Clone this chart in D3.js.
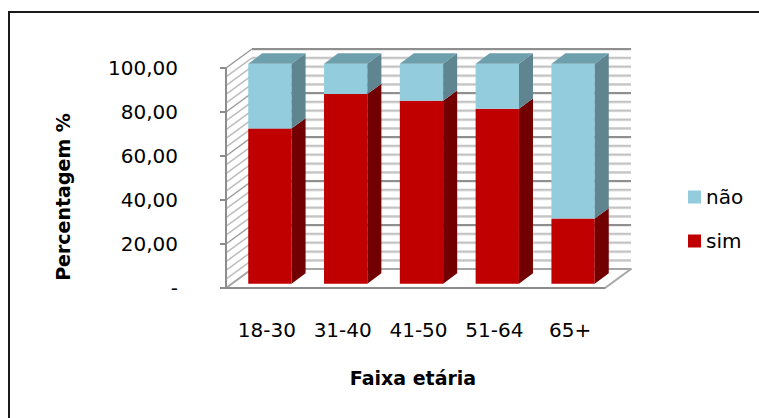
<!DOCTYPE html>
<html>
<head>
<meta charset="utf-8">
<script src="https://cdn.jsdelivr.net/npm/d3@7"></script>
<style>
  html, body { margin: 0; padding: 0; background: #fff; }
  svg { display: block; font-family: "DejaVu Sans", sans-serif; }
</style>
</head>
<body>
<svg id="chart" width="759" height="418"></svg>
<script>
// Share of respondents by age group (percent)
const categories = ["18-30", "31-40", "41-50", "51-64", "65+"];
const sim = [70.5, 86.2, 83.1, 79.5, 29.6];
const nao = [29.5, 13.8, 16.9, 20.5, 70.4];
const seriesKeys = ["sim", "nao"];
const seriesNames = { sim: "sim", nao: "não" };
const yTicks = [0, 20, 40, 60, 80, 100];
const yMinorTicks = d3.range(0, 101, 4);

const colors = {
  sim: { front: "#c00000", side: "#730000", top: "#8a0000" },
  nao: { front: "#93cddd", side: "#5f8590", top: "#6e9fad" }
};

const svg = d3.select("#chart");

// front plane of the 3D plot box
const x = d3.scaleBand().domain(categories).range([226, 605]).paddingInner(0.4286).paddingOuter(0.2143);
const y = d3.scaleLinear().domain([0, 100]).range([288, 68]);

// depth vector from front plane to back wall
const depth = { dx: 26, dy: -19 };
const barFront = 0.23, barBack = 0.77;

const fmt = v => v === 0 ? "-" : d3.format(".2f")(v).replace(".", ",");

const rows = categories.map((c, i) => ({ cat: c, sim: sim[i], nao: nao[i] }));
const stacked = d3.stack().keys(seriesKeys)(rows);

const pt = (px, py, f) => [px + depth.dx * f, py + depth.dy * f];
const poly = pts => "M" + pts.map(p => p.join(",")).join("L") + "Z";

// outer frame
svg.append("rect")
  .attr("x", 9).attr("y", 12).attr("width", 770).attr("height", 430)
  .attr("fill", "none").attr("stroke", "#1a1a1a").attr("stroke-width", 2);

const x0 = x.range()[0], x1 = x.range()[1];
const walls = svg.append("g");

// back wall and side wall
walls.append("path")
  .attr("d", poly([pt(x0, y(0), 1), pt(x1, y(0), 1), pt(x1, y(100), 1), pt(x0, y(100), 1)]))
  .attr("fill", "#fff");

// minor/major gridlines on back wall and side wall
yMinorTicks.forEach(v => {
  const major = v % 20 === 0;
  const a = pt(x0, y(v), 1), b = pt(x1, y(v), 1);
  walls.append("line")
    .attr("x1", a[0]).attr("y1", a[1] + 1).attr("x2", b[0]).attr("y2", b[1] + 1)
    .attr("stroke", "#e2e2e2").attr("stroke-width", 1.5);
  walls.append("line")
    .attr("x1", a[0]).attr("y1", a[1]).attr("x2", b[0]).attr("y2", b[1])
    .attr("stroke", major ? "#8f8f8f" : "#c4c4c4").attr("stroke-width", 2);
  const s0 = pt(x0, y(v), 0), s1 = pt(x0, y(v), 1);
  walls.append("line")
    .attr("x1", s0[0]).attr("y1", s0[1]).attr("x2", s1[0]).attr("y2", s1[1])
    .attr("stroke", major ? "#9a9a9a" : "#bdbdbd").attr("stroke-width", 1.5);
});

// floor
walls.append("path")
  .attr("d", poly([pt(x0, y(0), 0), pt(x1, y(0), 0), pt(x1, y(0), 1), pt(x0, y(0), 1)]))
  .attr("fill", "#fff").attr("stroke", "#a6a6a6").attr("stroke-width", 2).attr("stroke-linejoin", "round");

// left value axis
const axisG = svg.append("g");
axisG.append("line")
  .attr("x1", x0).attr("x2", x0).attr("y1", y(0)).attr("y2", y(100))
  .attr("stroke", "#8c8c8c").attr("stroke-width", 2);
axisG.append("line")
  .attr("x1", x0).attr("x2", x1).attr("y1", y(0)).attr("y2", y(0))
  .attr("stroke", "#8c8c8c").attr("stroke-width", 2);
yTicks.forEach(v => {
  axisG.append("line")
    .attr("x1", x0 - 6).attr("x2", x0).attr("y1", y(v)).attr("y2", y(v))
    .attr("stroke", "#8c8c8c").attr("stroke-width", 2);
  axisG.append("text")
    .attr("x", 178).attr("y", y(v)).attr("dy", "0.36em")
    .attr("text-anchor", "end").attr("font-size", 20).attr("fill", "#000")
    .text(fmt(v));
});

// bars
const bars = svg.append("g");
const bw = x.bandwidth();
categories.forEach((c, i) => {
  stacked.forEach((layer, li) => {
    const d = layer[i];
    const key = layer.key;
    const col = colors[key];
    const xl = x(c), xr = x(c) + bw;
    const yb = y(d[0]), yt = y(d[1]);
    // front face
    bars.append("path")
      .attr("d", poly([pt(xl, yb, barFront), pt(xr, yb, barFront), pt(xr, yt, barFront), pt(xl, yt, barFront)]))
      .attr("fill", col.front);
    // right side face
    bars.append("path")
      .attr("d", poly([pt(xr, yb, barFront), pt(xr, yb, barBack), pt(xr, yt, barBack), pt(xr, yt, barFront)]))
      .attr("fill", col.side);
    // top face on the uppermost segment
    if (li === stacked.length - 1) {
      bars.append("path")
        .attr("d", poly([pt(xl, yt, barFront), pt(xr, yt, barFront), pt(xr, yt, barBack), pt(xl, yt, barBack)]))
        .attr("fill", col.top);
    }
  });
});

// category labels
categories.forEach(c => {
  svg.append("text")
    .attr("x", x(c) + bw / 2 + 3).attr("y", 330).attr("dy", "0.36em")
    .attr("text-anchor", "middle").attr("font-size", 20).attr("fill", "#000")
    .text(c);
});

// axis titles
svg.append("text")
  .attr("x", 413).attr("y", 378).attr("dy", "0.36em")
  .attr("text-anchor", "middle").attr("font-size", 19).attr("font-weight", "bold")
  .text("Faixa etária");
svg.append("text")
  .attr("transform", "translate(63,197) rotate(-90)").attr("dy", "0.36em")
  .attr("text-anchor", "middle").attr("font-size", 19).attr("font-weight", "bold")
  .text("Percentagem %");

// legend (top series first)
const legendKeys = seriesKeys.slice().reverse();
const legend = svg.append("g");
legendKeys.forEach((k, i) => {
  const ly = 197 + i * 44;
  legend.append("rect")
    .attr("x", 688).attr("y", ly - 6.5).attr("width", 13).attr("height", 13)
    .attr("fill", colors[k].front);
  legend.append("text")
    .attr("x", 706).attr("y", ly).attr("dy", "0.36em")
    .attr("font-size", 20).attr("fill", "#000")
    .text(seriesNames[k]);
});
</script>
</body>
</html>
